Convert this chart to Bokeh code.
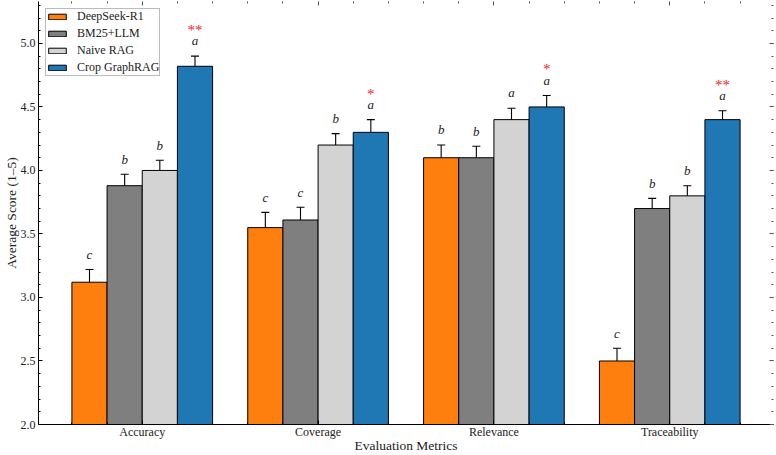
from bokeh.plotting import figure
from bokeh.models import (ColumnDataSource, Whisker, TeeHead, FixedTicker,
                          SingleIntervalTicker, LinearAxis, Range1d,
                          PrintfTickFormatter, CustomJSTickFormatter)
from bokeh.core.properties import value
from bokeh.embed import file_html
from bokeh.resources import INLINE
import numpy as np

# ---- data -------------------------------------------------------------
categories = ["Accuracy", "Coverage", "Relevance", "Traceability"]
methods = ["DeepSeek-R1", "BM25+LLM", "Naive RAG", "Crop GraphRAG"]

deepseek_mean = [3.12, 3.55, 4.10, 2.50]
bm25_mean = [3.88, 3.61, 4.10, 3.70]
naive_mean = [4.00, 4.20, 4.40, 3.80]
graphrag_mean = [4.82, 4.30, 4.50, 4.40]

deepseek_err = [0.10, 0.12, 0.10, 0.10]
bm25_err = [0.09, 0.10, 0.09, 0.08]
naive_err = [0.08, 0.09, 0.09, 0.08]
graphrag_err = [0.08, 0.10, 0.09, 0.07]

deepseek_letter = ["c", "c", "b", "c"]
bm25_letter = ["b", "c", "b", "b"]
naive_letter = ["b", "b", "a", "b"]
graphrag_letter = ["a", "a", "a", "a"]

graphrag_stars = ["**", "*", "*", "**"]

colors = ["#ff7f0e", "#7f7f7f", "#d3d3d3", "#1f77b4"]

means = [deepseek_mean, bm25_mean, naive_mean, graphrag_mean]
errs = [deepseek_err, bm25_err, naive_err, graphrag_err]
letters = [deepseek_letter, bm25_letter, naive_letter, graphrag_letter]

FONT = "Liberation Serif"
TEXT = "#222222"
bar_w = 0.2
offsets = [-0.3, -0.1, 0.1, 0.3]
X_LO, X_HI = -0.59, 3.59
Y_LO, Y_HI = 2.0, 5.33

p = figure(width=776, height=455, output_backend="svg", toolbar_location=None,
           x_range=Range1d(X_LO, X_HI), y_range=Range1d(Y_LO, Y_HI),
           min_border_left=37, min_border_right=3, min_border_top=1,
           min_border_bottom=31)
p.outline_line_color = None
p.xgrid.visible = False
p.ygrid.visible = False
p.background_fill_color = "white"

base_x = np.arange(len(categories))

for i, m in enumerate(methods):
    x = base_x + offsets[i]
    top = np.array(means[i])
    err = np.array(errs[i])
    src = ColumnDataSource(dict(x=x, top=top, upper=top + err, lower=top - err,
                                lab_y=top + err + 0.12, lab=letters[i]))
    p.vbar(x="x", top="top", bottom=Y_LO, width=bar_w, source=src,
           fill_color=colors[i], line_color="black", line_width=1,
           legend_label=m)
    wh = Whisker(base="x", upper="upper", lower="lower", source=src,
                 line_color="black", line_width=1.1,
                 upper_head=TeeHead(size=8, line_color="black", line_width=1.1),
                 lower_head=TeeHead(size=8, line_color="black", line_width=1.1))
    p.add_layout(wh)
    p.text(x="x", y="lab_y", text="lab", source=src, text_align="center",
           text_baseline="alphabetic", text_font=value(FONT),
           text_font_style="italic", text_font_size="13px", text_color=TEXT)
    if m == "Crop GraphRAG":
        ssrc = ColumnDataSource(dict(x=x, y=top + err + 0.205, s=graphrag_stars))
        p.text(x="x", y="y", text="s", source=ssrc, text_align="center",
               text_baseline="alphabetic", text_font=value(FONT),
               text_font_size="15px", text_color="#ee2222")

# ---- axes -------------------------------------------------------------
minor_x = [round(v, 1) for v in np.arange(-0.4, 3.41, 0.2) if abs(v - round(v)) > 1e-6]
x_ticker = FixedTicker(ticks=[0, 1, 2, 3], minor_ticks=minor_x)
y_ticker = SingleIntervalTicker(interval=0.5, num_minor_ticks=5)

xa = p.xaxis[0]
xa.ticker = x_ticker
xa.major_label_overrides = {i: c for i, c in enumerate(categories)}
xa.axis_label = "Evaluation Metrics"

ya = p.yaxis[0]
ya.ticker = y_ticker
ya.formatter = PrintfTickFormatter(format="%.1f")
ya.axis_label = "Average Score (1–5)"

for ax in (xa, ya):
    ax.axis_line_color = "black"
    ax.axis_line_width = 1
    ax.major_tick_in = 4
    ax.major_tick_out = 0
    ax.minor_tick_in = 2
    ax.minor_tick_out = 0
    ax.major_tick_line_color = "black"
    ax.minor_tick_line_color = "black"
    ax.major_label_text_font = FONT
    ax.major_label_text_font_size = "12px"
    ax.major_label_text_color = TEXT
    ax.axis_label_text_font = FONT
    ax.axis_label_text_font_size = "13.5px"
    ax.axis_label_text_font_style = "normal"
    ax.axis_label_text_color = TEXT
xa.major_label_standoff = 0
xa.axis_label_standoff = -4
ya.major_label_standoff = 3
ya.axis_label_standoff = -1
ya.axis_label_text_line_height = 1.0

# tick marks on the opposite sides, no labels
blank = CustomJSTickFormatter(code="return ''")
top_ax = LinearAxis(ticker=x_ticker, formatter=blank)
right_ax = LinearAxis(ticker=y_ticker, formatter=blank)
for ax in (top_ax, right_ax):
    ax.axis_line_color = None
    ax.major_tick_in = 4
    ax.major_tick_out = 0
    ax.minor_tick_in = 2
    ax.minor_tick_out = 0
    ax.major_tick_line_color = "#555555"
    ax.minor_tick_line_color = "#555555"
    ax.major_label_standoff = 0
p.add_layout(top_ax, "above")
p.add_layout(right_ax, "right")

# ---- legend -----------------------------------------------------------
lg = p.legend[0]
lg.location = "top_left"
lg.margin = 7
lg.padding = 0
lg.spacing = 2
lg.glyph_width = 22
lg.glyph_height = 7
lg.label_height = 12
lg.label_standoff = 9
lg.label_text_font = FONT
lg.label_text_font_size = "12px"
lg.label_text_color = TEXT
lg.border_line_color = "#777777"
lg.border_line_width = 1
lg.background_fill_alpha = 1.0

open("out.html", "w").write(file_html(p, INLINE))
